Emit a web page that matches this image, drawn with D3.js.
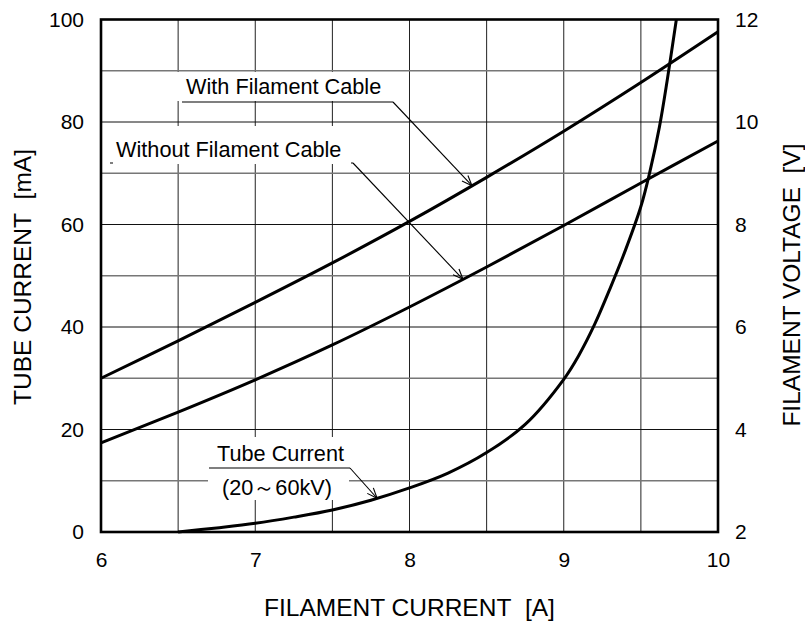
<!DOCTYPE html>
<html>
<head>
<meta charset="utf-8">
<script src="https://cdn.jsdelivr.net/npm/d3@7"></script>
<style>
  body { margin: 0; background: #fff; }
  svg text { font-family: "Liberation Sans", Arial, sans-serif; fill: #000; }
  .tick text { font-size: 21px; }
  .axisTitle { font-size: 24.5px; white-space: pre; }
  .note { font-size: 21.7px; white-space: pre; }
</style>
</head>
<body>
<svg id="chart" width="805" height="622"></svg>
<script>
// filament current [A] vs filament voltage [V]
const currentA         = [6, 6.5, 7, 7.5, 8, 8.5, 9, 9.5, 10];
const voltWithCable    = [5.0, 5.73, 6.48, 7.25, 8.06, 8.92, 9.82, 10.77, 11.76];
const voltWithoutCable = [3.74, 4.34, 4.97, 5.65, 6.39, 7.17, 7.98, 8.81, 9.63];

// filament current [A] vs tube current [mA]
const tubeA  = [6.5, 6.75, 7, 7.25, 7.5, 7.75, 8, 8.25, 8.5, 8.75, 9, 9.1, 9.2, 9.3, 9.4, 9.5, 9.56, 9.62, 9.67, 9.73];
const tubeMA = [0, 0.8, 1.7, 2.9, 4.3, 6.2, 8.6, 11.5, 15.5, 21.0, 29.8, 34.6, 40.5, 47.5, 55, 63.5, 70.5, 79, 88, 100];

const xTicks      = [6, 7, 8, 9, 10];
const leftTicks   = [0, 20, 40, 60, 80, 100];
const rightTicks  = [2, 4, 6, 8, 10, 12];

/* ---------------------------------- */
const P = {L: 101, R: 718, T: 19.5, B: 532};

const x  = d3.scaleLinear().domain([6, 10]).range([P.L, P.R]);
const yL = d3.scaleLinear().domain([0, 100]).range([P.B, P.T]);
const yR = d3.scaleLinear().domain([2, 12]).range([P.B, P.T]);

const svg = d3.select("#chart");

// grid
const grid = svg.append("g");
grid.selectAll("line.v")
    .data(d3.range(6.5, 10, 0.5))
    .enter().append("line")
    .attr("x1", d => x(d)).attr("x2", d => x(d))
    .attr("y1", P.T).attr("y2", P.B)
    .attr("stroke", "#222").attr("stroke-width", 1);
grid.selectAll("line.h")
    .data(d3.range(10, 100, 10))
    .enter().append("line")
    .attr("x1", P.L).attr("x2", P.R)
    .attr("y1", d => yL(d)).attr("y2", d => yL(d))
    .attr("stroke", d => (d % 20 === 0 ? "#111" : "#777"))
    .attr("stroke-width", d => (d % 20 === 0 ? 1 : 1.4));

// white boxes behind the notes, cutting the grid
const boxes = [
    [176, 72, 219, 29],
    [108, 126, 243, 37],
    [208, 437, 141, 63],
];
svg.append("g").selectAll("rect")
   .data(boxes).enter().append("rect")
   .attr("x", d => d[0]).attr("y", d => d[1])
   .attr("width", d => d[2]).attr("height", d => d[3])
   .attr("fill", "#fff");

// axes labels
const axL = svg.append("g").attr("transform", "translate(" + P.L + ",0)")
   .call(d3.axisLeft(yL).tickValues(leftTicks).tickSize(0).tickPadding(17));
const axR = svg.append("g").attr("transform", "translate(" + P.R + ",0)")
   .call(d3.axisRight(yR).tickValues(rightTicks).tickSize(0).tickPadding(17));
const axB = svg.append("g").attr("transform", "translate(0," + P.B + ")")
   .call(d3.axisBottom(x).tickValues(xTicks).tickFormat(d3.format("d")).tickSize(0).tickPadding(20));
[axL, axR, axB].forEach(a => {
    a.select(".domain").remove();
    a.attr("font-family", null).attr("font-size", null);
});

// frame
svg.append("rect")
   .attr("x", P.L).attr("y", P.T)
   .attr("width", P.R - P.L).attr("height", P.B - P.T)
   .attr("fill", "none").attr("stroke", "#000").attr("stroke-width", 2.6);

// curves
const lineR = d3.line().x(d => x(d[0])).y(d => yR(d[1])).curve(d3.curveCatmullRom.alpha(0.5));
const lineL = d3.line().x(d => x(d[0])).y(d => yL(d[1])).curve(d3.curveCatmullRom.alpha(0.5));

const curves = svg.append("g").attr("fill", "none").attr("stroke", "#000")
                  .attr("stroke-width", 3).attr("stroke-linejoin", "round");
curves.append("path").attr("d", lineR(d3.zip(currentA, voltWithCable)));
curves.append("path").attr("d", lineR(d3.zip(currentA, voltWithoutCable)));
curves.append("path").attr("d", lineL(d3.zip(tubeA, tubeMA)));

// notes with leader arrows
const interp = (xs, ys, v) => {
    const i = d3.bisectRight(xs, v) - 1;
    const t = (v - xs[i]) / (xs[i + 1] - xs[i]);
    return ys[i] + t * (ys[i + 1] - ys[i]);
};
const notes = [
    {text: "With Filament Cable", tx: 186, ty: 94, u1: 182, u2: 393, uy: 102,
     tip: [x(8.405), yR(interp(currentA, voltWithCable, 8.405))]},
    {text: "Without Filament Cable", tx: 116, ty: 157, u1: 110, u2: 353, uy: 163,
     tip: [x(8.347), yR(interp(currentA, voltWithoutCable, 8.347))]},
    {text: "Tube Current", tx: 217, ty: 461, u1: 209, u2: 350, uy: 468,
     tip: [x(7.79), yL(interp(tubeA, tubeMA, 7.79))]},
];
const ng = svg.append("g");
notes.forEach(n => {
    const g = ng.append("g");
    g.append("line").attr("x1", n.u1).attr("x2", n.u2).attr("y1", n.uy).attr("y2", n.uy)
     .attr("stroke", "#000").attr("stroke-width", 1.2);
    g.append("line").attr("x1", n.u2).attr("y1", n.uy).attr("x2", n.tip[0]).attr("y2", n.tip[1])
     .attr("stroke", "#000").attr("stroke-width", 1.1);
    const ang = Math.atan2(n.tip[1] - n.uy, n.tip[0] - n.u2);
    [-0.38, 0.38].forEach(da => {
        g.append("line")
         .attr("x1", n.tip[0]).attr("y1", n.tip[1])
         .attr("x2", n.tip[0] - 11 * Math.cos(ang + da))
         .attr("y2", n.tip[1] - 11 * Math.sin(ang + da))
         .attr("stroke", "#000").attr("stroke-width", 1.1);
    });
});
// white box hides the middle of the "Without" underline
svg.append("rect").attr("x", 113).attr("y", 130).attr("width", 238).attr("height", 34)
   .attr("fill", "#fff");
svg.append("g").selectAll("text.note")
  .data(notes).enter().append("text").classed("note", true)
  .attr("x", d => d.tx).attr("y", d => d.ty).text(d => d.text);
svg.append("text").classed("note", true).attr("x", 222).attr("y", 495).text("(20\uff5e60kV)");

// axis titles
svg.append("text").classed("axisTitle", true)
   .attr("x", (P.L + P.R) / 2).attr("y", 616).attr("text-anchor", "middle")
   .text("FILAMENT CURRENT\u00a0\u00a0[A]");
svg.append("text").classed("axisTitle", true)
   .attr("transform", "translate(31," + 277 + ") rotate(-90)")
   .attr("text-anchor", "middle")
   .text("TUBE CURRENT\u00a0\u00a0[mA]");
svg.append("text").classed("axisTitle", true)
   .attr("transform", "translate(800," + 285 + ") rotate(-90)")
   .attr("text-anchor", "middle")
   .text("FILAMENT VOLTAGE\u00a0\u00a0[V]");
</script>
</body>
</html>
